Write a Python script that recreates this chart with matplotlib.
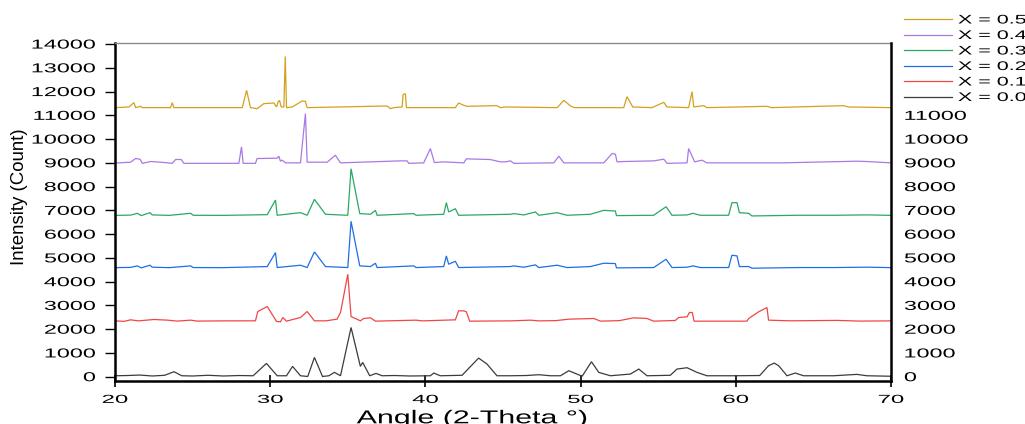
import matplotlib
matplotlib.use("Agg")
import matplotlib.pyplot as plt
from matplotlib import patheffects
from matplotlib.transforms import Affine2D
from matplotlib.lines import Line2D

# ---------------- data ----------------
labels = ["X = 0.0", "X = 0.1", "X = 0.2", "X = 0.3", "X = 0.4", "X = 0.5"]
colors = ["#3c3c3c", "#f04646", "#1e6ee6", "#2aa864", "#aa78e6", "#d4a020"]

x_00 = [20, 20.8, 21.6, 22.4, 23.2, 23.8, 24.3, 25, 26, 27, 28, 28.9, 29.76, 30.45, 31.05,
        31.44, 31.95, 32.42, 32.85, 33.37, 33.78, 34.14, 34.53, 35.21, 35.81, 35.96, 36.41,
        36.82, 37.21, 38, 39, 40.32, 40.54, 40.96, 42.36, 43.43, 43.97, 44.61, 45.47, 46.5,
        47.31, 48.06, 48.70, 49.24, 50.10, 50.70, 51.17, 51.92, 53.21, 53.75, 54.28, 55.78,
        56.21, 56.86, 57.50, 58.14, 59.86, 61.54, 62.11, 62.48, 62.76, 63.30, 63.83, 64.37,
        66.3, 67.80, 68.45, 69.95, 70]
y_00 = [40, 50, 70, 30, 60, 210, 40, 30, 60, 30, 50, 40, 560, 40, 40,
        434, 40, 10, 812, 10, 40, 182, 40, 2072, 434, 602, 40,
        140, 40, 50, 30, 40, 154, 40, 60, 784, 532, 40, 40, 50,
        84, 40, 40, 252, 20, 630, 182, 40, 112, 322, 40, 60,
        322, 378, 182, 40, 40, 50, 462, 574, 462, 40, 154, 40,
        40, 98, 40, 20, 30]

x_01 = [20, 20.6, 21.0, 21.5, 22.51, 23.4, 24.0, 24.87, 25.3, 27, 29.05, 29.2, 29.81, 30.41,
        30.66, 30.81, 31.05, 31.95, 32.38, 32.85, 33.6, 34.31, 34.53, 35.0, 35.21, 35.81,
        36.03, 36.46, 36.78, 39.4, 39.8, 41.93, 42.14, 42.47, 42.64, 42.85, 45.5, 46.77,
        47.3, 48.4, 49.24, 50.85, 51.28, 52.5, 53.42, 54.28, 54.71, 56.1, 56.32, 56.86,
        57.01, 57.20, 57.31, 60.72, 60.83, 61.47, 62.01, 62.11, 63.5, 66.5, 68, 70]
y_01 = [2350, 2330, 2394, 2350, 2408, 2380, 2340, 2380, 2340, 2350, 2352, 2744, 2954, 2324,
        2310, 2492, 2338, 2492, 2744, 2352, 2352, 2422, 2702, 4312, 2534, 2352,
        2450, 2478, 2338, 2380, 2350, 2394, 2772, 2772, 2730, 2338, 2350, 2380,
        2350, 2360, 2422, 2450, 2338, 2360, 2478, 2450, 2338, 2366, 2492, 2520,
        2702, 2702, 2338, 2338, 2450, 2730, 2912, 2380, 2352, 2370, 2340, 2350]

x_02 = [20, 21.0, 21.44, 21.69, 22.25, 22.4, 23.5, 24.87, 25.04, 27, 29.81, 30.34, 30.45,
        31.95, 32.38, 32.85, 33.56, 35.0, 35.21, 35.77, 36.46, 36.78, 36.89, 39.25, 39.4,
        41.18, 41.35, 41.5, 41.93, 42.14, 45.47, 45.7, 46.34, 47.09, 47.31, 48.49, 49.13,
        50.63, 51.49, 52.24, 52.31, 54.71, 55.51, 55.89, 56.86, 57.24, 57.72, 59.54, 59.75,
        60.08, 60.23, 60.83, 61.04, 64, 66.3, 68.5, 70]
y_02 = [4590, 4600, 4664, 4580, 4692, 4608, 4590, 4664, 4594, 4590, 4636, 5224, 4594,
        4692, 4594, 5252, 4636, 4594, 6540, 4664, 4636, 4776, 4594, 4664, 4594,
        4636, 5084, 4734, 4860, 4594, 4636, 4664, 4608, 4706, 4594, 4692, 4594,
        4636, 4776, 4762, 4580, 4594, 4944, 4594, 4608, 4664, 4594, 4594, 5112,
        5084, 4636, 4636, 4566, 4594, 4594, 4610, 4590]

x_03 = [20, 21.0, 21.44, 21.69, 22.25, 22.4, 23.5, 24.87, 25.04, 27, 29.81, 30.34, 30.45,
        31.95, 32.38, 32.85, 33.56, 35.0, 35.21, 35.77, 36.46, 36.78, 36.89, 39.25, 39.4,
        41.18, 41.35, 41.5, 41.93, 42.14, 45.47, 45.7, 46.34, 47.09, 47.31, 48.49, 49.13,
        50.63, 51.49, 52.24, 52.31, 54.71, 55.51, 55.89, 56.86, 57.24, 57.72, 59.54, 59.75,
        60.08, 60.23, 60.83, 61.04, 64, 66.3, 68.5, 70]
y_03 = [6790, 6800, 6876, 6780, 6904, 6810, 6790, 6876, 6794, 6790, 6820, 7436, 6794,
        6904, 6794, 7464, 6836, 6794, 8752, 6864, 6836, 7002, 6794, 6864, 6794,
        6836, 7324, 6934, 7072, 6794, 6836, 6864, 6808, 6932, 6794, 6904, 6794,
        6836, 7002, 6974, 6780, 6794, 7156, 6794, 6808, 6876, 6794, 6794, 7324,
        7324, 6904, 6876, 6766, 6794, 6794, 6810, 6790]

x_04 = [20, 21.0, 21.33, 21.61, 21.76, 22.3, 22.94, 23.69, 23.9, 24.27, 24.44, 27.98, 28.15,
        28.26, 29.05, 29.16, 30.45, 30.56, 30.66, 30.77, 30.99, 31.95, 32.27, 32.38, 33.67,
        34.2, 34.53, 38.39, 38.82, 38.93, 39.89, 40.32, 40.58, 41.18, 42.47, 42.64, 44.18,
        44.83, 45.16, 45.48, 45.7, 48.27, 48.6, 48.92, 51.49, 52.03, 52.24, 52.35, 52.78,
        54.71, 55.36, 55.57, 56.86, 56.96, 57.35, 57.82, 58.14, 63, 67.8, 68.45, 70]
y_04 = [8990, 9028, 9182, 9154, 8980, 9056, 9028, 8980, 9140, 9140, 8980, 8980, 9672,
        8980, 8980, 9182, 9196, 9280, 9070, 9112, 9000, 9000, 11072, 9028, 9028,
        9322, 9000, 9084, 9084, 8980, 9000, 9602, 9014, 9042, 9000, 9168, 9140,
        9042, 9042, 9084, 8980, 9000, 9280, 9000, 9000, 9392, 9364, 9042, 9056,
        9084, 9154, 8980, 9000, 9602, 9042, 9112, 9000, 9000, 9070, 9056, 9000]

x_05 = [20, 20.9, 21.22, 21.33, 21.65, 21.76, 23.58, 23.69, 23.8, 28.2, 28.48, 28.73, 29.16,
        29.59, 30.24, 30.41, 30.5, 30.6, 30.71, 30.88, 30.97, 31.05, 31.42, 32.06, 32.27,
        32.38, 37.53, 37.75, 37.96, 38.5, 38.56, 38.71, 38.78, 41.93, 42.14, 42.47, 42.68,
        44.61, 44.83, 45.16, 48.49, 48.92, 49.35, 49.6, 52.78, 52.99, 53.36, 54.6, 55.36,
        55.57, 56.96, 57.18, 57.29, 57.93, 58.14, 62.01, 62.3, 66.94, 67.26, 70]
y_05 = [11324, 11352, 11534, 11324, 11380, 11324, 11324, 11534, 11324, 11324, 12052, 11324, 11282,
        11492, 11520, 11352, 11562, 11632, 11352, 11352, 13480, 11324, 11352, 11604, 11590,
        11324, 11394, 11282, 11324, 11352, 11870, 11912, 11324, 11324, 11520, 11422, 11380,
        11408, 11324, 11352, 11324, 11632, 11394, 11324, 11324, 11786, 11352, 11324, 11548,
        11352, 11324, 11996, 11352, 11408, 11324, 11380, 11324, 11408, 11352, 11324]

series_x = [x_00, x_01, x_02, x_03, x_04, x_05]
series_y = [y_00, y_01, y_02, y_03, y_04, y_05]

x_ticks = [20, 30, 40, 50, 60, 70]
left_ticks = list(range(0, 14001, 1000))
right_ticks = list(range(0, 11001, 1000))


# ---------------- horizontal text stretch effect ----------------
class HStretch(patheffects.AbstractPathEffect):
    def __init__(self, sx, anchor="center"):
        super().__init__()
        self.sx = sx
        self.anchor = anchor

    def draw_path(self, renderer, gc, tpath, affine, rgbFace=None):
        ext = tpath.get_extents(affine)
        if self.anchor == "left":
            a = ext.x0
        elif self.anchor == "right":
            a = ext.x1
        else:
            a = 0.5 * (ext.x0 + ext.x1)
        new = affine + Affine2D().translate(-a, 0).scale(self.sx, 1.0).translate(a, 0)
        renderer.draw_path(gc, tpath, new, rgbFace)


plt.rcParams["font.family"] = ["Liberation Sans", "DejaVu Sans"]

W, H = 1025, 424
fig = plt.figure(figsize=(W / 100, H / 100), dpi=100)
x0, x1 = 115, 891
ytop, ybot = 42.7, 380.7
ax = fig.add_axes([x0 / W, 1 - ybot / H, (x1 - x0) / W, (ybot - ytop) / H])

for xs, ys, c in zip(series_x, series_y, colors):
    ax.plot(xs, ys, color=c, lw=0.9, solid_joinstyle="miter")

ax.set_xlim(20, 70)
ax.set_ylim(-168, 14057)
ax.set_xticks(x_ticks)
ax.set_yticks(left_ticks)

for side in ["left", "bottom"]:
    ax.spines[side].set_linewidth(1.8)
    ax.spines[side].set_color("black")
ax.spines["top"].set_linewidth(1.0)
ax.spines["top"].set_color("#8a8a8a")
ax.spines["right"].set_visible(False)

ax.tick_params(axis="x", direction="inout", length=8, width=1.2, pad=5.5,
               labelsize=8.4, colors="black")
ax.tick_params(axis="y", direction="out", length=7.2, width=1.0, pad=6.8,
               labelsize=9.35, colors="black")

for lab in ax.get_xticklabels():
    lab.set_path_effects([HStretch(2.05, "center")])
for lab in ax.get_yticklabels():
    lab.set_path_effects([HStretch(1.8, "right")])

ax2 = ax.twinx()
ax2.set_ylim(ax.get_ylim())
ax2.set_yticks(right_ticks)
for side in ["left", "top", "bottom"]:
    ax2.spines[side].set_visible(False)
ax2.spines["right"].set_linewidth(1.8)
ax2.spines["right"].set_color("black")
ax2.tick_params(axis="y", length=0, pad=9.6, labelsize=9.35, colors="black")
for lab in ax2.get_yticklabels():
    lab.set_path_effects([HStretch(1.8, "left")])

xl = ax.set_xlabel("Angle (2-Theta °)", fontsize=13.4, ha="center", va="baseline")
xl.set_path_effects([HStretch(1.63, "center")])
ax.xaxis.set_label_coords((472 - x0) / (x1 - x0), -(423.3 - ybot) / (ybot - ytop))

yl = ax.set_ylabel("Intensity (Count)", fontsize=13.4, va="center", ha="center")
ax.yaxis.set_label_coords((20 - x0) / (x1 - x0), (ybot - 196.5) / (ybot - ytop))

handles = [Line2D([], [], color=c, lw=0.9) for c in colors][::-1]
leg = fig.legend(handles, labels[::-1], loc="upper left",
                 bbox_to_anchor=(904 / W, 1 - 14.5 / H), frameon=False,
                 borderpad=0, borderaxespad=0, handlelength=3.85, handletextpad=0.48,
                 labelspacing=0.28, fontsize=9)
for t in leg.get_texts():
    t.set_path_effects([HStretch(1.72, "left")])

fig.savefig("out.png", dpi=100)
